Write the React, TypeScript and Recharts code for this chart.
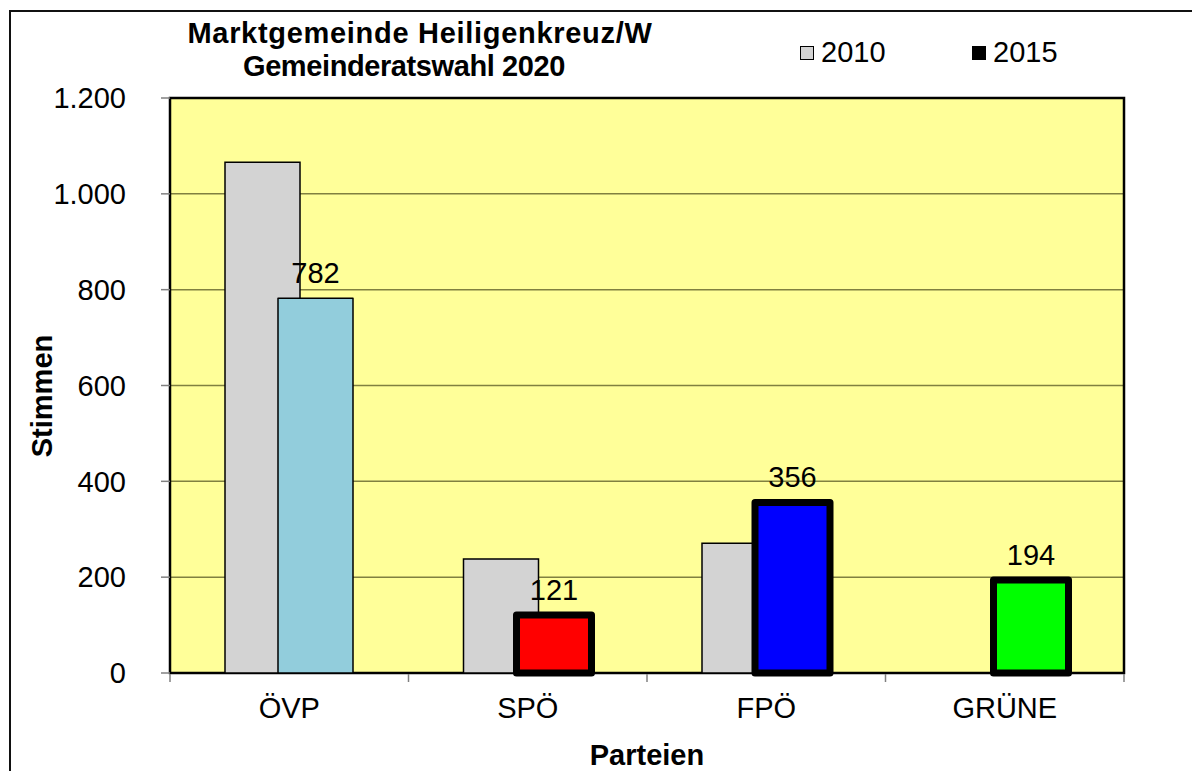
import {
  BarChart,
  Bar,
  XAxis,
  YAxis,
  CartesianGrid,
  Cell,
  LabelList,
  Legend,
  ReferenceArea,
} from "recharts";

const parties = ["ÖVP", "SPÖ", "FPÖ", "GRÜNE"];
const votes2010 = [1066, 238, 271, null];
const votes2015 = [782, 121, 356, 194];
const yTicks = [0, 200, 400, 600, 800, 1000, 1200];
const partyEdges = [0, 1, 2, 3, 4];

const colors2015 = ["#92cddc", "#ff0000", "#0000ff", "#00ff00"];
const borders2015 = [1.5, 7, 7, 7];

const FONT = "'Liberation Sans', Arial, sans-serif";

const data = parties.map((party, i) => ({
  party,
  edge: i,
  "2010": votes2010[i],
  "2015": votes2015[i],
}));

// 1200 -> "1.200"
const fmtDE = (v: number) =>
  v >= 1000
    ? `${Math.floor(v / 1000)}.${String(v % 1000).padStart(3, "0")}`
    : `${v}`;

const LegendContent = ({ payload }: any) => (
  <div style={{ display: "flex" }}>
    {(payload ?? []).map((p: any) => (
      <div
        key={p.value}
        style={{
          display: "flex",
          alignItems: "center",
          width: 172,
          fontSize: 29,
          lineHeight: "29px",
          color: "#000",
        }}
      >
        <span
          style={{
            display: "inline-block",
            width: 12,
            height: 12,
            border: "1.5px solid #000",
            background: p.color,
            marginRight: 7,
          }}
        />
        {p.value}
      </div>
    ))}
  </div>
);

export default function App() {
  return (
    <div
      style={{
        position: "absolute",
        left: 0,
        top: 0,
        width: 1192,
        height: 771,
        overflow: "hidden",
        background: "#fff",
        fontFamily: FONT,
      }}
    >
      <style>{`body{margin:0}`}</style>
      <div
        style={{
          position: "absolute",
          left: 9,
          top: 10,
          width: 1300,
          height: 900,
          border: "2px solid #111",
        }}
      />
      <BarChart
        width={1192}
        height={771}
        data={data}
        barGap={-22}
        margin={{ top: 98, right: 68, left: 0, bottom: 96 }}
        style={{ position: "absolute", left: 0, top: 0 }}
      >
        <CartesianGrid
          vertical={false}
          fill="#ffff99"
          fillOpacity={1}
          stroke="#808040"
          strokeWidth={1.5}
        />
        <XAxis
          dataKey="party"
          height={1}
          axisLine={false}
          tickLine={false}
          tickSize={8}
          tickMargin={16}
          tick={{ fill: "#000", fontSize: 29 }}
        />
        <XAxis
          xAxisId="edges"
          type="number"
          dataKey="edge"
          domain={[0, 4]}
          ticks={partyEdges}
          allowDataOverflow
          height={1}
          tick={() => <g />}
          axisLine={false}
          tickSize={8}
          tickLine={{ stroke: "#808080", strokeWidth: 1.5 }}
        />
        <YAxis
          width={170}
          domain={[0, 1200]}
          ticks={yTicks}
          tickFormatter={fmtDE}
          axisLine={false}
          tickSize={9}
          tickMargin={35}
          tickLine={{ stroke: "#808080", strokeWidth: 1.5 }}
          tick={{ fill: "#000", fontSize: 29 }}
        />
        <ReferenceArea
          y1={0}
          y2={1200}
          fill="none"
          stroke="#000"
          strokeWidth={2.5}
        />
        <Legend
          layout="vertical"
          align="center"
          verticalAlign="middle"
          wrapperStyle={{ top: 38, left: 800, width: 360 }}
          content={<LegendContent />}
        />
        <Bar
          dataKey="2010"
          fill="#d3d3d3"
          stroke="#000"
          strokeWidth={1.5}
          barSize={75}
          isAnimationActive={false}
        />
        <Bar
          dataKey="2015"
          fill="#000"
          stroke="#000"
          barSize={75}
          isAnimationActive={false}
        >
          {data.map((d, i) => (
            <Cell
              key={d.party}
              fill={colors2015[i]}
              stroke="#000"
              strokeWidth={borders2015[i]}
              strokeLinejoin="round"
            />
          ))}
          <LabelList
            dataKey="2015"
            position="top"
            offset={15}
            fill="#000"
            fontSize={29}
          />
        </Bar>
      </BarChart>
      <svg
        width={1192}
        height={771}
        style={{ position: "absolute", left: 0, top: 0, pointerEvents: "none" }}
        fontFamily={FONT}
        fontWeight="bold"
        fontSize={29}
        fill="#000"
      >
        <text x={420} y={43} textAnchor="middle" letterSpacing={0.7}>
          Marktgemeinde Heiligenkreuz/W
        </text>
        <text x={404} y={76} textAnchor="middle" letterSpacing={-0.4}>
          Gemeinderatswahl 2020
        </text>
        <text x={52} y={396} textAnchor="middle" transform="rotate(-90 52 396)">
          Stimmen
        </text>
        <text x={647} y={765} textAnchor="middle">
          Parteien
        </text>
      </svg>
    </div>
  );
}
